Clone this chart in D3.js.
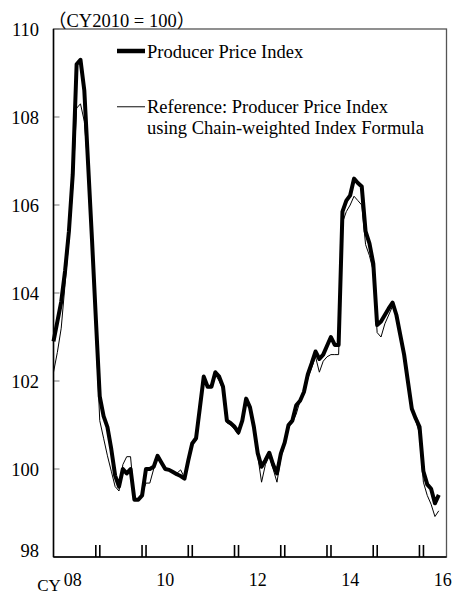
<!DOCTYPE html>
<html><head><meta charset="utf-8">
<script src="https://cdn.jsdelivr.net/npm/d3@7"></script>
<style>html,body{margin:0;padding:0;background:#fff;}svg{display:block;}</style>
</head><body>
<svg id="c" width="454" height="596"></svg>
<script>
// Monthly, Jan 2008 (index 0) .. May 2016 (index 100)
const ppi = [
  102.9,103.35,103.8,104.5,105.4,106.7,109.2,109.3,108.6,106.9,105.2,103.4,
  101.65,101.2,100.95,100.45,99.85,99.6,100.0,99.9,100.0,99.3,99.3,99.4,
  100.0,100.0,100.05,100.3,100.15,100.0,99.98,99.93,99.88,99.84,99.78,100.2,
  100.58,100.7,101.4,102.1,101.87,101.87,102.2,102.1,101.87,101.1,101.04,100.96,
  100.83,101.1,101.6,101.4,100.96,100.36,100.05,100.2,100.37,100.1,99.9,100.35,
  100.6,101.0,101.1,101.45,101.55,101.75,102.15,102.4,102.67,102.5,102.6,102.8,
  103.0,102.82,102.82,105.85,106.1,106.22,106.6,106.5,106.42,105.4,105.13,104.67,
  103.27,103.35,103.5,103.65,103.78,103.5,103.05,102.6,101.98,101.37,101.15,100.96,
  99.95,99.65,99.55,99.22,99.41
];
const chainRef = [
  102.2,102.65,103.2,104.2,105.2,106.4,108.2,108.3,107.9,106.8,105.0,103.1,
  101.1,100.7,100.3,99.95,99.6,99.5,100.1,100.28,100.28,99.3,99.3,99.45,
  99.68,99.68,100.0,100.3,100.15,100.0,100.0,99.95,99.9,99.98,99.8,100.2,
  100.55,100.65,101.4,102.05,101.85,101.85,102.15,102.0,101.8,101.05,101.0,100.9,
  100.78,101.05,101.55,101.35,100.9,100.3,99.7,100.1,100.3,100.0,99.7,100.25,
  100.55,100.95,101.05,101.25,101.55,101.7,102.05,102.3,102.55,102.2,102.45,102.55,
  102.6,102.6,102.6,105.6,105.85,106.0,106.2,106.1,106.0,105.1,104.85,104.5,
  103.1,103.0,103.3,103.5,103.7,103.45,103.0,102.55,101.95,101.35,101.1,100.8,
  99.7,99.4,99.2,98.92,99.05
];
const yTicks = [98,100,102,104,106,108,110];
const xLabels = ["08","10","12","14","16"];
const xLabelIdx = [5,29,53,77,101];
const yearBoundaryIdx = [11.5,23.5,35.5,47.5,59.5,71.5,83.5,95.5];
const titleText = "（CY2010 = 100）";
const legendLabels = ["Producer Price Index","Reference: Producer Price Index","using Chain-weighted Index Formula"];

const svg = d3.select("#c");
const L = 53.5, R = 446.5, T = 29, B = 557;
const x = d3.scaleLinear().domain([0,102]).range([L,R]);
const y = d3.scaleLinear().domain([98,110]).range([B,T]);
const font = "'Liberation Serif','Times New Roman',serif";

// frame
svg.append("rect").attr("x",L).attr("y",T).attr("width",R-L).attr("height",B-T)
  .attr("fill","none").attr("stroke","#555").attr("stroke-width",1.3);

// y ticks (inside)
svg.selectAll(".yt").data(yTicks).enter().append("line")
  .attr("x1",L).attr("x2",L+6).attr("y1",d=>y(d)).attr("y2",d=>y(d))
  .attr("stroke","#777").attr("stroke-width",1);
svg.selectAll(".yl").data(yTicks).enter().append("text")
  .attr("x",39).attr("y",d=> d===98 ? y(d) : y(d)+7)
  .attr("text-anchor","end").attr("font-family",font).attr("font-size",18.5)
  .text(d=>d);

// axes lines
svg.append("line").attr("x1",L).attr("x2",L).attr("y1",T).attr("y2",B).attr("stroke","#000").attr("stroke-width",1.5);
svg.append("line").attr("x1",L).attr("x2",R).attr("y1",B).attr("y2",B).attr("stroke","#000").attr("stroke-width",1.5);

// double ticks at year boundaries
yearBoundaryIdx.forEach(b=>{
  [-2,2].forEach(o=>{
    svg.append("line").attr("x1",x(b)+o).attr("x2",x(b)+o).attr("y1",B-12).attr("y2",B)
      .attr("stroke","#000").attr("stroke-width",1.6);
  });
});

// x labels
svg.selectAll(".xl").data(xLabels).enter().append("text")
  .attr("x",(d,i)=>x(xLabelIdx[i])).attr("y",586)
  .attr("text-anchor","middle").attr("font-family",font).attr("font-size",18)
  .text(d=>d);
svg.append("text").attr("x",49).attr("y",591).attr("text-anchor","middle")
  .attr("font-family",font).attr("font-size",17).text("CY");

// title
svg.append("text").attr("x",48).attr("y",27).attr("font-family",font+",'Noto Sans CJK JP'")
  .attr("font-size",18.5).text(titleText);

// lines
const line = d3.line().x((d,i)=>x(i)).y(d=>y(d));
svg.append("path").datum(chainRef).attr("d",line).attr("fill","none")
  .attr("stroke","#000").attr("stroke-width",1);
svg.append("path").datum(ppi).attr("d",line).attr("fill","none")
  .attr("stroke","#000").attr("stroke-width",4).attr("stroke-linejoin","round");

// legend
svg.append("line").attr("x1",117).attr("x2",145).attr("y1",51).attr("y2",51)
  .attr("stroke","#000").attr("stroke-width",4.5);
svg.append("line").attr("x1",117).attr("x2",145).attr("y1",106.7).attr("y2",106.7)
  .attr("stroke","#444").attr("stroke-width",1.3);
const lg = svg.append("g").attr("font-family",font).attr("font-size",18.5);
lg.append("text").attr("x",147).attr("y",58).text(legendLabels[0]);
lg.append("text").attr("x",147).attr("y",113).text(legendLabels[1]);
lg.append("text").attr("x",147).attr("y",134).text(legendLabels[2]);
</script>
</body></html>
